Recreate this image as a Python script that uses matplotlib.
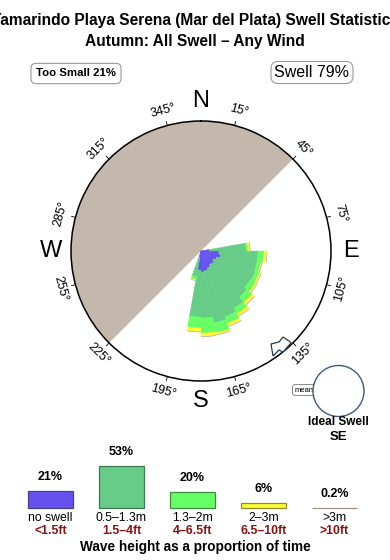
import numpy as np
import matplotlib
matplotlib.use("Agg")
import matplotlib.pyplot as plt
from matplotlib.patches import Ellipse, Polygon

plt.rcParams['font.family'] = ['Liberation Sans', 'DejaVu Sans']

# ---------------- data ----------------
title_line1 = "Tamarindo Playa Serena (Mar del Plata) Swell Statistics"
title_line2 = "Autumn: All Swell \u2013 Any Wind"
too_small_pct = 21
swell_pct = 79

# direction bins (deg, centre of 10-degree bins) and stacked segment lengths (radial units)
dir_bins = [85, 95, 105, 115, 125, 135, 145, 155, 165, 175, 185, 195]
seg_noswell = [8, 18, 20, 17, 15, 17, 16, 18, 20, 21, 19, 6]
seg_small = [37, 39, 37, 41, 42, 43, 50, 52, 53, 46, 47, 20]
seg_mid = [2, 6, 4, 4, 6, 7, 6, 7, 10, 15, 11, 3]
seg_big = [2, 3, 1, 2, 2, 3, 3, 3, 2, 3.5, 4, 1]
seg_huge = [0, 0, 0, 0, 0, 0.4, 0.4, 0.4, 0.4, 0.4, 0, 0]

land_from, land_to = 225, 405  # shaded (land) sector, degrees

deg_ticks = [15, 45, 75, 105, 135, 165, 195, 225, 255, 285, 315, 345]
cardinals = ["N", "E", "S", "W"]
cardinal_deg = [0, 90, 180, 270]

leg_pct = [21, 53, 20, 6, 0.2]
leg_pct_lbl = ["21%", "53%", "20%", "6%", "0.2%"]
leg_m = ["no swell", "0.5\u20131.3m", "1.3\u20132m", "2\u20133m", ">3m"]
leg_ft = ["<1.5ft", "1.5\u20134ft", "4\u20136.5ft", "6.5\u201310ft", ">10ft"]
ideal_dir = "SE"

# ---------------- style ----------------
col_cat = ["#6650f0", "#66cc88", "#66ff66", "#ffff33", "#c8b8a8"]
edge_cat = ["#44448a", "#3f7a55", "#3f8a3f", "#8a8a30", "#a09080"]
land_col = "#c4b8ac"
ft_col = "#8b1010"

W, H = 390, 560
fig = plt.figure(figsize=(W / 100, H / 100), dpi=100)
fig.patch.set_facecolor("white")

def fx(x):
    return x / W

def fy(y):
    return 1 - y / H

# ---------------- rose ----------------
cx, cy, R = 201, 251, 130
ax = fig.add_axes([fx(cx - R), fy(cy + R), 2 * R / W, 2 * R / H], projection="polar")
ax.set_theta_zero_location("N")
ax.set_theta_direction(-1)
ax.set_ylim(0, R)
ax.set_xticks([])
ax.set_yticks([])
ax.grid(False)
ax.spines["polar"].set_linewidth(1.1)
ax.spines["polar"].set_color("black")

# land half
ax.bar(np.deg2rad((land_from + land_to) / 2), R, width=np.deg2rad(land_to - land_from),
       bottom=0, color=land_col, edgecolor="none", zorder=1)

th = np.deg2rad(dir_bins)
wd = np.deg2rad(10)
bottom = np.zeros(len(dir_bins))
for seg, c in zip([seg_noswell, seg_small, seg_mid, seg_big, seg_huge], col_cat):
    seg = np.array(seg, dtype=float)
    ax.bar(th, seg, width=wd, bottom=bottom, color=c, edgecolor=c, linewidth=0.3,
           zorder=3, align="center")
    bottom = bottom + seg

# degree ticks + labels
for d in deg_ticks:
    t = np.deg2rad(d)
    ax.plot([t, t], [R, R + 4], color="black", lw=0.6, clip_on=False, zorder=5)
    rot = -d
    while rot <= -90:
        rot += 180
    while rot > 90:
        rot -= 180
    ax.text(t, R + 15, f"{d}\u00b0", rotation=rot, rotation_mode="anchor",
            ha="center", va="center", fontsize=9, clip_on=False)

for lab, d in zip(cardinals, cardinal_deg):
    ax.text(np.deg2rad(d), R + 20, lab, ha="center", va="center", fontsize=17, clip_on=False)

# mean-direction arrow (outline) near 138 deg on the rim
arr_px = np.array([[289, 341], [283, 337], [279, 342], [271, 344], [273, 356],
                   [279, 350], [283, 352], [291, 343]])
fig.add_artist(Polygon(np.column_stack([fx(arr_px[:, 0]), fy(arr_px[:, 1])]), closed=True,
                       facecolor="white", edgecolor="#2a3a4a", lw=0.9, zorder=6))

# ---------------- headers ----------------
fig.text(0.5, fy(21), title_line1, ha="center", va="center", fontsize=11.2, weight="bold")
fig.text(0.5, fy(41.5), title_line2, ha="center", va="center", fontsize=11.2, weight="bold")

fig.text(fx(76), fy(73.5), f"Too Small {too_small_pct}%", ha="center", va="center", fontsize=8.2,
         weight="bold",
         bbox=dict(boxstyle="round,pad=0.45,rounding_size=0.45", fc="white", ec="#999999", lw=0.8))
fig.text(fx(312), fy(72.5), f"Swell {swell_pct}%", ha="center", va="center", fontsize=11.5,
         bbox=dict(boxstyle="round,pad=0.22,rounding_size=0.45", fc="white", ec="#999999", lw=0.8))

# ---------------- ideal swell ----------------
fig.text(fx(304), fy(390), "mean", ha="center", va="center", fontsize=5.5, zorder=2,
         bbox=dict(boxstyle="round,pad=0.25,rounding_size=0.3", fc="white", ec="#777777", lw=0.6))
fig.add_artist(Ellipse((fx(338.5), fy(391)), 2 * 25.5 / W, 2 * 25.5 / H, facecolor="white",
                       edgecolor="#3d5a80", lw=1.0, zorder=3))
fig.text(fx(338), fy(422), "Ideal Swell", ha="center", va="center", fontsize=8.5, weight="bold")
fig.text(fx(338), fy(437), ideal_dir, ha="center", va="center", fontsize=9.5, weight="bold")

# ---------------- legend bars ----------------
lax = fig.add_axes([fx(15), fy(508), 355 / W, 60 / H])
lax.set_xlim(-0.5, 4.5)
lax.set_ylim(0, 60 / 0.79)
lax.axis("off")
xs = np.arange(len(leg_pct))
lax.bar(xs, leg_pct, width=0.634, color=col_cat, edgecolor=edge_cat, linewidth=0.9,
        clip_on=False)
for x, v, s in zip(xs, leg_pct, leg_pct_lbl):
    lax.annotate(s, (x, v), xytext=(0, 8), textcoords="offset pixels", ha="center",
                 va="bottom", fontsize=9, weight="bold")
for x, m, f in zip(xs, leg_m, leg_ft):
    lax.annotate(m, (x, 0), xytext=(0, -10), textcoords="offset pixels", ha="center",
                 va="center", fontsize=8.8, annotation_clip=False)
    lax.annotate(f, (x, 0), xytext=(0, -23), textcoords="offset pixels", ha="center",
                 va="center", fontsize=8.8, color=ft_col, weight="bold", annotation_clip=False)

fig.text(0.5, fy(546.5), "Wave height as a proportion of time", ha="center", va="center",
         fontsize=9.8, weight="bold")

fig.savefig("out.png", dpi=100, facecolor="white")
